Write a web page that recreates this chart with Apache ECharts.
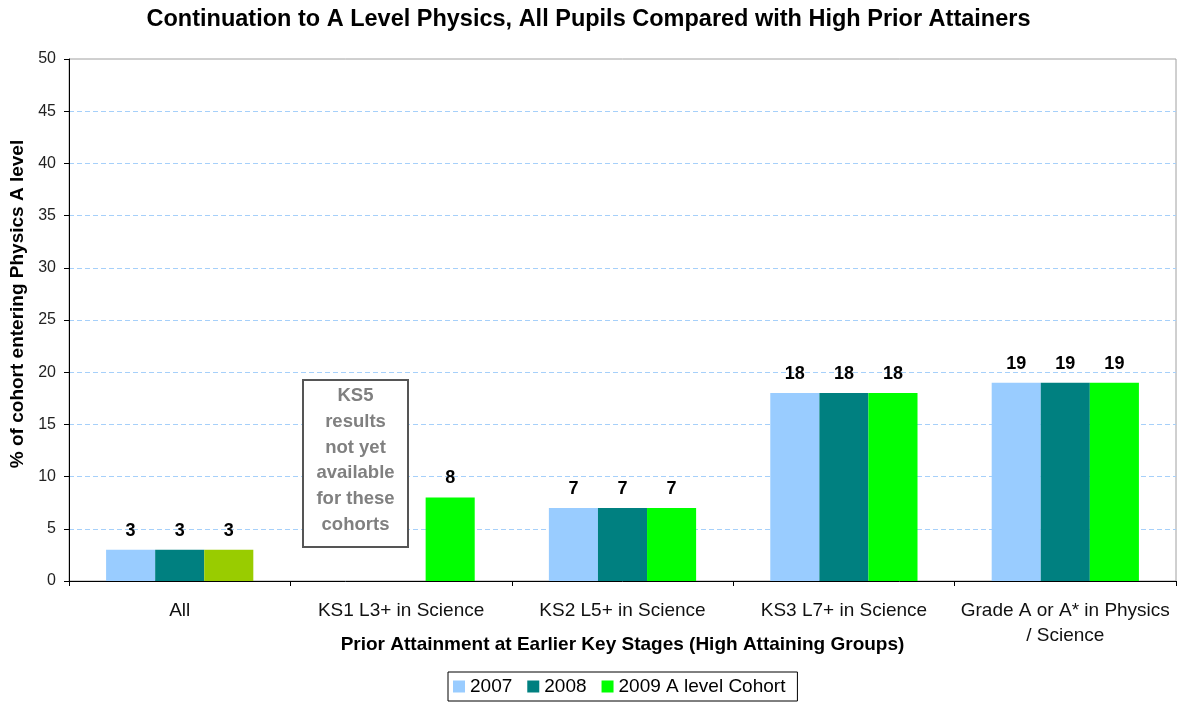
<!DOCTYPE html>
<html><head><meta charset="utf-8">
<script src="https://cdn.jsdelivr.net/npm/echarts@6/dist/echarts.min.js"></script>
<style>html,body{margin:0;padding:0;background:#fff}#c{width:1177px;height:702px}</style>
</head><body><div id="c"></div>
<script>
const categories = ['All', 'KS1 L3+ in Science', 'KS2 L5+ in Science', 'KS3 L7+ in Science', 'Grade A or A* in Physics\n/ Science'];
const s2007 = [3, null, 7, 18, 19];
const s2008 = [3, null, 7, 18, 19];
const s2009 = [3, 8, 7, 18, 19];
const seriesNames = ['2007', '2008', '2009 A level Cohort'];
const yTicks = { min: 0, max: 50, interval: 5 };
const noteText = 'KS5\nresults\nnot yet\navailable\nfor these\ncohorts';

const FONT = 'Liberation Sans, Arial, sans-serif';
const colors = ['#99CCFF', '#008080', '#00FF00'];
const allColor2009 = '#99CC00';

const labelOpt = { show: true, position: 'top', distance: 10, fontFamily: FONT, fontWeight: 'bold', fontSize: 18, color: '#000' };

const chart = echarts.init(document.getElementById('c'), null, { renderer: 'canvas' });
chart.setOption({
  animation: false,
  textStyle: { fontFamily: FONT },
  title: {
    text: 'Continuation to A Level Physics, All Pupils Compared with High Prior Attainers',
    left: 'center', top: 3,
    textStyle: { fontFamily: FONT, fontWeight: 'bold', fontSize: 23.5, color: '#000' }
  },
  grid: { left: 69, right: 1, top: 59, bottom: 121, show: true, borderColor: '#a0a0a0', borderWidth: 1, backgroundColor: '#fff', outerBoundsMode: 'none', containLabel: false },
  legend: {
    data: seriesNames, top: 672, left: 448,
    borderColor: '#000', borderWidth: 1, padding: [5, 12, 5, 5],
    itemWidth: 12, itemHeight: 12, itemGap: 15,
    textStyle: { fontFamily: FONT, fontSize: 19, color: '#000' },
    icon: 'rect'
  },
  xAxis: {
    type: 'category', data: categories,
    name: 'Prior Attainment at Earlier Key Stages (High Attaining Groups)',
    nameLocation: 'middle', nameGap: 54, nameMoveOverlap: false,
    nameTextStyle: { fontFamily: FONT, fontWeight: 'bold', fontSize: 19, color: '#000' },
    axisLine: { lineStyle: { color: '#000', width: 1 } },
    axisTick: { show: true, length: 5, lineStyle: { color: '#000' } },
    axisLabel: { fontFamily: FONT, fontSize: 19, color: '#111', margin: 17, lineHeight: 25, interval: 0 }
  },
  yAxis: {
    type: 'value', min: yTicks.min, max: yTicks.max, interval: yTicks.interval,
    name: '% of cohort entering Physics A level',
    nameLocation: 'middle', nameGap: 41,
    nameTextStyle: { fontFamily: FONT, fontWeight: 'bold', fontSize: 19, color: '#000', padding: [0, 0, 0, 32] },
    axisLine: { show: true, lineStyle: { color: '#000', width: 1 } },
    axisTick: { show: true, length: 5, lineStyle: { color: '#000' } },
    axisLabel: { fontFamily: FONT, fontSize: 16, color: '#222', margin: 13 },
    splitLine: { show: true, showMaxLine: false, lineStyle: { color: '#A6D0FA', type: [5, 3], width: 1 } }
  },
  series: [
    { name: seriesNames[0], type: 'bar', data: s2007, barGap: '0%', barCategoryGap: '33.5%', itemStyle: { color: colors[0] }, label: labelOpt },
    { name: seriesNames[1], type: 'bar', data: s2008, barGap: '0%', barCategoryGap: '33.5%', itemStyle: { color: colors[1] }, label: labelOpt },
    { name: seriesNames[2], type: 'bar', barGap: '0%', barCategoryGap: '33.5%', itemStyle: { color: colors[2] }, label: labelOpt,
      data: s2009.map((v, i) => i === 0 ? { value: v, itemStyle: { color: allColor2009 } } : v) }
  ],
  graphic: [
    { type: 'rect', z: 100,
      shape: { x: 303, y: 380, width: 105, height: 167 },
      style: { fill: '#fff', stroke: '#555', lineWidth: 2 } },
    { type: 'text', z: 101,
      style: { x: 355.5, y: 383, text: noteText, textAlign: 'center', textVerticalAlign: 'top', fill: '#808080', font: 'bold 18.5px ' + FONT, lineHeight: 25.8 } }
  ]
});
</script></body></html>
